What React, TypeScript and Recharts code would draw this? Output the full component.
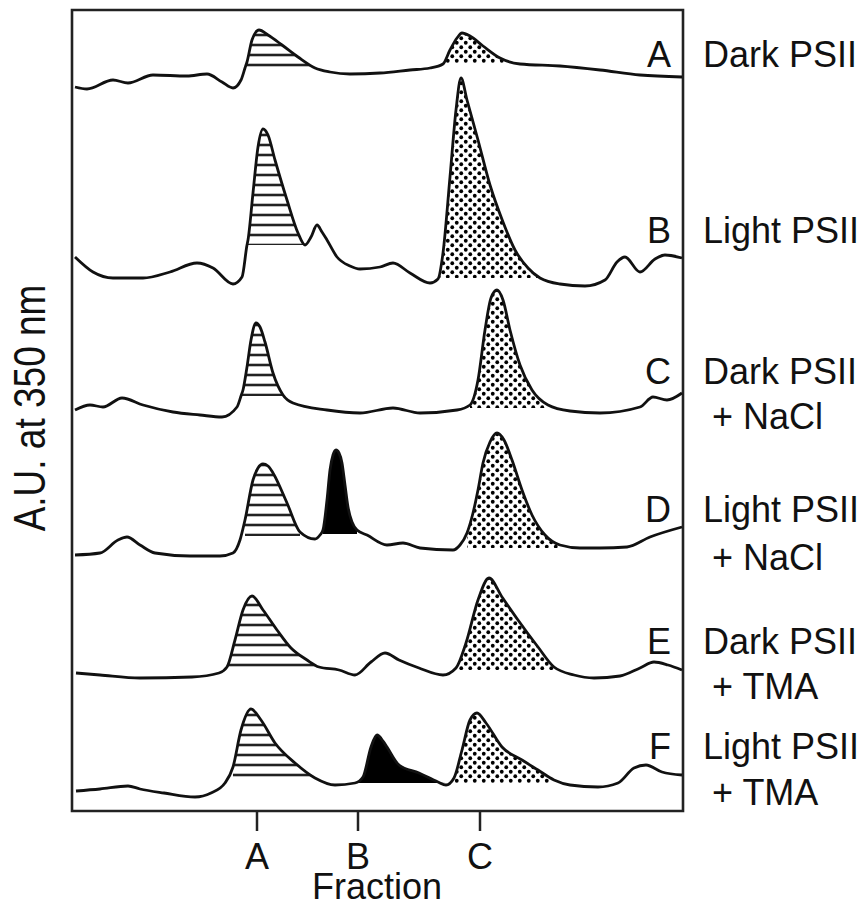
import React from 'react';
import { ComposedChart, Line, Area, XAxis, YAxis, ReferenceArea } from 'recharts';

type Pt = [number, number];

// x = fraction position (elution), y = absorbance at 350 nm (arbitrary units, offset traces)
const darkPSII: Pt[] = [
  [3, 724], [15, 722], [41, 731], [56, 728], [81, 736], [115, 735], [135, 737], [150, 729], [161, 723],
  [169, 731], [173, 743], [175, 749], [180, 771], [187, 781], [196, 776], [210, 766], [226, 754], [243, 743],
  [258, 739], [278, 737], [308, 738], [338, 741], [358, 743], [371, 747], [378, 761], [385, 773], [390, 778],
  [398, 775], [411, 765], [428, 753], [448, 747], [488, 745], [528, 741], [568, 736], [610, 734],
];
const lightPSII: Pt[] = [
  [3, 554], [21, 539], [41, 533], [71, 533], [98, 539], [125, 548], [141, 543], [161, 527], [170, 534],
  [175, 566], [176, 571], [181, 618], [186, 664], [191, 682], [196, 676], [203, 651], [215, 611], [226, 578],
  [233, 566], [239, 574], [245, 586], [250, 579], [255, 571], [265, 554], [278, 545], [288, 542], [308, 544],
  [321, 548], [338, 538], [358, 528], [366, 532], [371, 558], [378, 634], [384, 701], [389, 733], [395, 711],
  [406, 671], [418, 626], [431, 589], [443, 561], [456, 543], [468, 533], [488, 527], [513, 525], [533, 531],
  [545, 549], [553, 554], [568, 539], [583, 552], [593, 556], [610, 553],
];
const darkPSIINaCl: Pt[] = [
  [3, 401], [18, 406], [31, 404], [50, 413], [71, 406], [101, 399], [128, 396], [150, 394], [165, 404],
  [169, 415], [171, 421], [175, 444], [179, 471], [184, 488], [188, 484], [193, 469], [201, 438], [211, 416],
  [221, 408], [255, 401], [288, 398], [321, 403], [348, 398], [385, 401], [398, 406], [406, 431], [413, 481],
  [419, 513], [425, 521], [431, 511], [438, 481], [448, 446], [460, 421], [476, 406], [498, 400], [528, 398],
  [568, 404], [581, 414], [595, 411], [610, 418],
];
const lightPSIINaCl: Pt[] = [
  [3, 256], [28, 258], [46, 271], [55, 274], [68, 266], [83, 258], [118, 255], [148, 255], [161, 258],
  [168, 271], [173, 291], [181, 331], [186, 343], [191, 347], [196, 345], [201, 338], [215, 308], [228, 279],
  [243, 272], [248, 276], [251, 281], [255, 311], [258, 341], [261, 356], [264, 361], [267, 358], [270, 348],
  [273, 326], [276, 304], [280, 289], [285, 281], [295, 276], [315, 266], [331, 268], [348, 263], [381, 261],
  [388, 266], [395, 278], [401, 298], [406, 321], [411, 348], [418, 369], [425, 378], [432, 371], [440, 351],
  [450, 321], [460, 296], [473, 276], [488, 266], [508, 263], [528, 263], [555, 264], [578, 274], [610, 284],
];
const darkPSIITMA: Pt[] = [
  [4, 138], [28, 136], [68, 133], [120, 134], [147, 138], [155, 144], [163, 171], [171, 201], [180, 215],
  [191, 201], [205, 181], [219, 163], [235, 151], [247, 144], [267, 141], [283, 136], [299, 149], [313, 158],
  [327, 151], [347, 143], [371, 136], [384, 143], [394, 168], [406, 211], [417, 233], [430, 214], [446, 191],
  [466, 164], [482, 144], [502, 136], [522, 133], [548, 135], [568, 143], [582, 149], [596, 146], [610, 141],
];
const lightPSIITMA: Pt[] = [
  [4, 20], [28, 22], [56, 25], [68, 22], [92, 18], [123, 14], [139, 18], [153, 28], [161, 44], [169, 81],
  [179, 102], [189, 91], [203, 68], [223, 48], [243, 33], [263, 26], [283, 28], [291, 34], [299, 64], [305, 76],
  [311, 70], [315, 64], [327, 46], [347, 38], [366, 29], [374, 26], [382, 33], [390, 61], [398, 91], [405, 98],
  [414, 88], [430, 64], [450, 51], [466, 41], [482, 31], [498, 26], [526, 24], [546, 28], [562, 43], [574, 46],
  [590, 39], [610, 36],
];

// integrated peak regions: [baseline, from, to]
const darkPSIIFills = { A: [743, 173, 243], C: [748, 371, 448] };
const lightPSIIFills = { A: [566, 175, 233], C: [533, 366, 468] };
const darkPSIINaClFills = { A: [415, 169, 211], C: [403, 396, 477] };
const lightPSIINaClFills = { A: [275, 169, 233], B: [277, 249, 286], C: [263, 389, 500] };
const darkPSIITMAFills = { A: [144, 155, 247], C: [141, 384, 490] };
const lightPSIITMAFills = { A: [34, 156, 243], B: [28, 283, 374], C: [28, 380, 490] };

const fractionTicks = [185, 286, 408];
const fractionTickLabels = ['A', 'B', 'C'];
const auTicks = [154, 396, 638];

const sampleCodes = ['A', 'B', 'C', 'D', 'E', 'F'];
const sampleNames = [
  ['Dark PSII'],
  ['Light PSII'],
  ['Dark PSII', '+ NaCl'],
  ['Light PSII', '+ NaCl'],
  ['Dark PSII', '+ TMA'],
  ['Light PSII', '+ TMA'],
];

const traces = [
  { pts: darkPSII, fills: darkPSIIFills },
  { pts: lightPSII, fills: lightPSIIFills },
  { pts: darkPSIINaCl, fills: darkPSIINaClFills },
  { pts: lightPSIINaCl, fills: lightPSIINaClFills },
  { pts: darkPSIITMA, fills: darkPSIITMAFills },
  { pts: lightPSIITMA, fills: lightPSIITMAFills },
];

const FONT = '"Liberation Sans", Arial, Helvetica, sans-serif';
const FS = 36;

// layout (page px) for the right-hand labels
const rowBaselines = [[67], [243], [384, 429], [522, 570], [654, 699], [759, 805]];

const fillFor: Record<string, string> = { A: 'url(#hatch)', B: '#000', C: 'url(#dots)' };

function lineRows(pts: Pt[]) {
  return pts.map(([x, y]) => ({ x, y }));
}
function bandRows(pts: Pt[], base: number, from: number, to: number) {
  return pts
    .filter(([x]) => x >= from && x <= to)
    .map(([x, y]) => ({ x, band: [base, Math.max(y, base)] }));
}

export default function App() {
  return (
    <div style={{ position: 'absolute', left: 0, top: 0, width: 867, height: 907, background: '#fff' }}>
      <ComposedChart width={867} height={907} margin={{ top: 10, right: 184, bottom: 0, left: 0 }}>
        <defs>
          <pattern id="hatch" patternUnits="userSpaceOnUse" width={10} height={10}>
            <rect x={0} y={0} width={10} height={10} fill="#fff" />
            <line x1={0} y1={5} x2={10} y2={5} stroke="#222" strokeWidth={2.6} />
          </pattern>
          <pattern id="dots" patternUnits="userSpaceOnUse" width={9} height={9}>
            <rect x={0} y={0} width={9} height={9} fill="#fff" />
            <circle cx={2.25} cy={2.25} r={1.9} fill="#000" />
            <circle cx={6.75} cy={6.75} r={1.9} fill="#000" />
          </pattern>
        </defs>
        <XAxis
          type="number"
          dataKey="x"
          domain={[0, 611]}
          allowDataOverflow
          ticks={fractionTicks}
          interval={0}
          tickFormatter={(v: number) => fractionTickLabels[fractionTicks.indexOf(v)] ?? ''}
          tickSize={20}
          tickMargin={12}
          height={96}
          axisLine={false}
          tickLine={{ stroke: '#222', strokeWidth: 2.5 }}
          tick={{ fontSize: FS, fill: '#111', fontFamily: FONT }}
        />
        <YAxis
          type="number"
          domain={[0, 801]}
          allowDataOverflow
          ticks={auTicks}
          interval={0}
          tick={false}
          tickSize={20}
          width={72}
          axisLine={false}
          tickLine={{ stroke: '#222', strokeWidth: 2.5 }}
        />
        {traces.flatMap((t, i) =>
          Object.entries(t.fills).map(([k, [base, from, to]]) => (
            <Area
              key={`f${i}${k}`}
              data={bandRows(t.pts, base, from, to)}
              dataKey="band"
              type="monotone"
              stroke="none"
              fill={fillFor[k]}
              fillOpacity={1}
              dot={false}
              activeDot={false}
              isAnimationActive={false}
            />
          ))
        )}
        {traces.map((t, i) => (
          <Line
            key={`l${i}`}
            data={lineRows(t.pts)}
            dataKey="y"
            type="monotone"
            stroke="#111"
            strokeWidth={2.8}
            dot={false}
            activeDot={false}
            isAnimationActive={false}
          />
        ))}
        <ReferenceArea x1={0} x2={611} y1={0} y2={801} fill="none" stroke="#222" strokeWidth={2.6} ifOverflow="visible" />
        {sampleCodes.map((c, i) => (
          <text key={`c${i}`} x={671} y={rowBaselines[i][0]} textAnchor="end" fontSize={FS} fontFamily={FONT} fill="#111">
            {c}
          </text>
        ))}
        {sampleNames.flatMap((lines, i) =>
          lines.map((s, j) => (
            <text key={`n${i}${j}`} x={j === 0 ? 703 : 712} y={rowBaselines[i][j]} fontSize={FS} fontFamily={FONT} fill="#111">
              {s}
            </text>
          ))
        )}
        <text x={377} y={899} textAnchor="middle" fontSize={FS} fontFamily={FONT} fill="#111">
          Fraction
        </text>
        <text x={0} y={0} textAnchor="middle" fontSize={37} fontFamily={FONT} fill="#111" transform="translate(45 408) scale(1.2 1) rotate(-90)">
          A.U. at 350 nm
        </text>
      </ComposedChart>
    </div>
  );
}
